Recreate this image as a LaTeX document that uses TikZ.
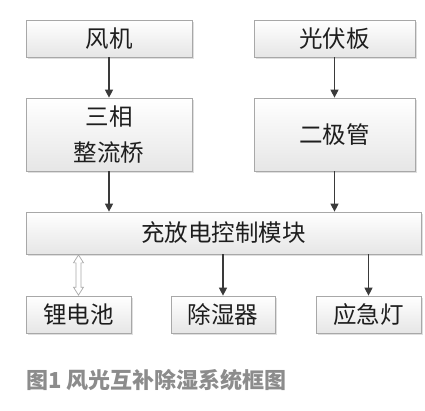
\documentclass[tikz,border=0pt]{standalone}
\usepackage{fontspec}
\newfontfamily\cjk{Noto Sans CJK SC}
\usetikzlibrary{arrows.meta}
\usetikzlibrary{calc}
\usetikzlibrary{shadows}
\definecolor{boxline}{HTML}{A8A8A8}
\definecolor{boxbot}{HTML}{E6E6E6}
\definecolor{arrowcol}{HTML}{3A3A3A}
\definecolor{captioncol}{HTML}{8C8C8C}
\definecolor{textcol}{HTML}{1E1E1E}

\begin{document}
\begin{tikzpicture}[x=1pt, y=-1pt,
    blk/.style={draw=boxline, line width=0.7pt, top color=white, bottom color=boxbot,
      drop shadow={shadow xshift=1.5pt, shadow yshift=-1.5pt, opacity=0.25},
      inner sep=0pt, align=center, text=textcol,
      font=\cjk\fontsize{23.5}{36}\selectfont},
    flow/.style={draw=arrowcol, line width=1.1pt, -{Triangle[length=8pt, width=8pt]}}]
        \useasboundingbox (0,0) rectangle (425,410);

        \node[blk, minimum width=166pt, minimum height=37pt] (fan) at (109,38.5) {风机};
        \node[blk, minimum width=166pt, minimum height=73pt] (rect) at (109,134.5) {三相\\整流桥};
        \node[blk, minimum width=161pt, minimum height=37pt] (pv) at (334.5,38.5) {光伏板};
        \node[blk, minimum width=161pt, minimum height=73pt] (diode) at (334.5,134.5) {二极管};
        \node[blk, minimum width=395pt, minimum height=42pt] (ctrl) at (223.5,233) {充放电控制模块};
        \node[blk, minimum width=105pt, minimum height=37pt] (bat) at (78.5,314.5) {锂电池};
        \node[blk, minimum width=104pt, minimum height=37pt] (dry) at (223,314.5) {除湿器};
        \node[blk, minimum width=105pt, minimum height=37pt] (lamp) at (368.5,314.5) {应急灯};

        \draw[flow] (fan) -- (rect);
        \draw[flow] (pv) -- (diode);
        \draw[flow] (rect.south) -- (rect.south |- ctrl.north);
        \draw[flow] (diode.south) -- (diode.south |- ctrl.north);
        \draw[flow] (ctrl.south -| dry.north) -- (dry.north);
        \draw[flow] (ctrl.south -| lamp.north) -- (lamp.north);

        % hollow two-way arrow to the battery
        \coordinate (btop) at (ctrl.south -| bat.north);
        \coordinate (bbot) at (bat.north);
        \draw[boxline, line width=0.7pt, fill=white] ($(btop)+(0,0.5)$) -- ++(5,8) -- ++(-2.5,0)
          -- ($(bbot)+(2.5,-8.5)$) -- ++(2.5,0) -- ($(bbot)+(0,-0.5)$) -- ++(-5,-8) -- ++(2.5,0)
          -- ($(btop)+(-2.5,8.5)$) -- ++(-2.5,0) -- cycle;

        \node[anchor=west, inner sep=0pt, text=captioncol, font=\cjk\bfseries\fontsize{22}{26}\selectfont] (cap) at (26,380) {图1 风光互补除湿系统框图};
\end{tikzpicture}
\end{document}
